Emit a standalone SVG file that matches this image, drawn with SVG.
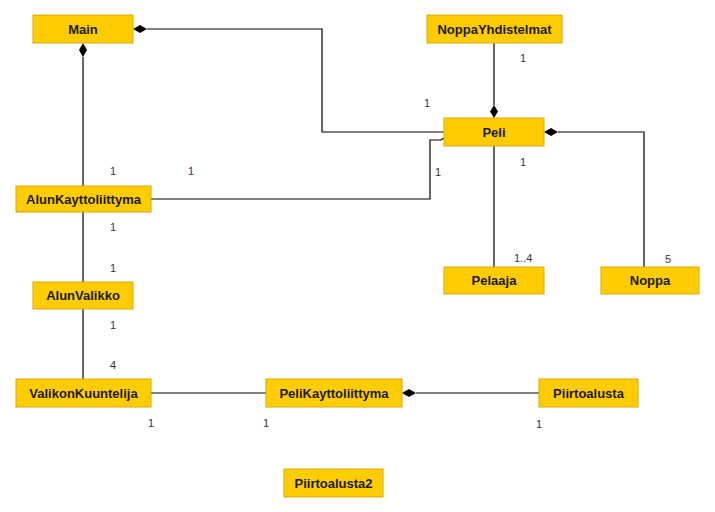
<svg xmlns="http://www.w3.org/2000/svg" width="715" height="512" viewBox="0 0 715 512">
<style>
.box{fill:#FFCC00;stroke:#D9A800;stroke-width:1}
.name{font-family:"Liberation Sans",Arial,sans-serif;font-size:13px;font-weight:bold;fill:#1a1a1a;text-anchor:middle}
.lbl{font-family:"Liberation Sans",Arial,sans-serif;font-size:11px;fill:#333}
.ln{fill:none;stroke:#000;stroke-width:1.2}
.dm{fill:#000}
</style>
<rect width="715" height="512" fill="#fff"/>
<g id="connectors">
<polyline class="ln" points="147,29 322,29 322,132 444,132"/>
<polygon class="dm" points="133,29 140,25 147,29 140,33"/>
<polyline class="ln" points="83,57 83,186"/>
<polygon class="dm" points="83,43 87,50 83,57 79,50"/>
<polyline class="ln" points="151,199 430,199 430,140 441,140 444,138"/>
<polyline class="ln" points="494,43 494,105"/>
<polygon class="dm" points="494,118 490,111.5 494,105 498,111.5"/>
<polyline class="ln" points="558,132 644,132 644,267"/>
<polygon class="dm" points="544,132 551,128 558,132 551,136"/>
<polyline class="ln" points="494,146 494,267"/>
<polyline class="ln" points="83,212 83,282"/>
<polyline class="ln" points="83,309 83,379"/>
<polyline class="ln" points="151,393 266,393"/>
<polyline class="ln" points="416,393 539,393"/>
<polygon class="dm" points="402,393 409,389 416,393 409,397"/>
<text class="lbl" x="110" y="175">1</text>
<text class="lbl" x="188" y="175">1</text>
<text class="lbl" x="424" y="107">1</text>
<text class="lbl" x="520" y="62">1</text>
<text class="lbl" x="435" y="176">1</text>
<text class="lbl" x="520" y="166">1</text>
<text class="lbl" x="514" y="262">1..4</text>
<text class="lbl" x="665" y="263">5</text>
<text class="lbl" x="110" y="231">1</text>
<text class="lbl" x="110" y="272">1</text>
<text class="lbl" x="110" y="329">1</text>
<text class="lbl" x="110" y="369">4</text>
<text class="lbl" x="148" y="427">1</text>
<text class="lbl" x="263" y="427">1</text>
<text class="lbl" x="536" y="428">1</text>
</g>
<g id="Main"><rect class="box" x="33" y="15" width="100" height="28"/><text class="name" x="83" y="33.5">Main</text></g>
<g id="NoppaYhdistelmat"><rect class="box" x="427" y="15" width="135" height="28"/><text class="name" x="494.5" y="33.5">NoppaYhdistelmat</text></g>
<g id="Peli"><rect class="box" x="444" y="118" width="100" height="28"/><text class="name" x="494" y="136.5">Peli</text></g>
<g id="AlunKayttoliittyma"><rect class="box" x="16" y="186" width="135" height="26"/><text class="name" x="83.5" y="203.5">AlunKayttoliittyma</text></g>
<g id="Pelaaja"><rect class="box" x="444" y="267" width="100" height="27"/><text class="name" x="494" y="285">Pelaaja</text></g>
<g id="Noppa"><rect class="box" x="601" y="267" width="98" height="27"/><text class="name" x="650" y="285">Noppa</text></g>
<g id="AlunValikko"><rect class="box" x="33" y="282" width="100" height="27"/><text class="name" x="83" y="300">AlunValikko</text></g>
<g id="ValikonKuuntelija"><rect class="box" x="16" y="379" width="135" height="28"/><text class="name" x="83.5" y="397.5">ValikonKuuntelija</text></g>
<g id="PeliKayttoliittyma"><rect class="box" x="266" y="379" width="136" height="28"/><text class="name" x="334" y="397.5">PeliKayttoliittyma</text></g>
<g id="Piirtoalusta"><rect class="box" x="539" y="379" width="99" height="28"/><text class="name" x="588.5" y="397.5">Piirtoalusta</text></g>
<g id="Piirtoalusta2"><rect class="box" x="284" y="469" width="99" height="28"/><text class="name" x="333.5" y="487.5">Piirtoalusta2</text></g>
</svg>
